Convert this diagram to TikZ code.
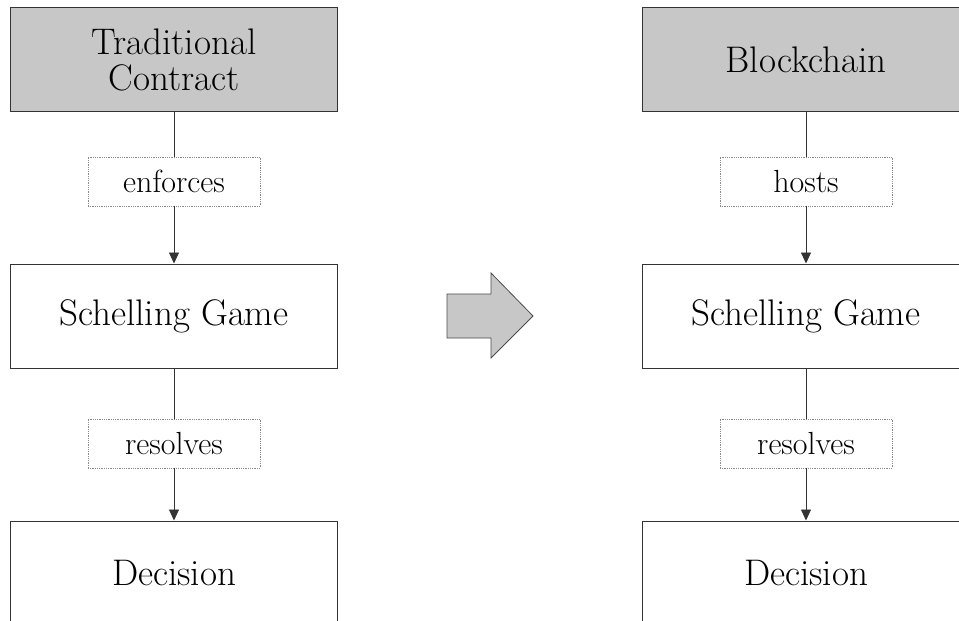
\documentclass[tikz,border=0pt]{standalone}
\usetikzlibrary{arrows.meta}
\begin{document}
\begin{tikzpicture}[x=1pt,y=-1pt,
  mainbox/.style={draw=black!80, line width=1pt, minimum width=327pt, minimum height=104pt, inner sep=0pt, font=\fontsize{37}{40}\selectfont, align=center},
  topbox/.style={mainbox, fill=black!22},
  lbl/.style={draw=black!45, densely dotted, line width=0.8pt, fill=white, minimum width=172pt, minimum height=49pt, inner sep=0pt, font=\fontsize{32}{36}\selectfont},
  conn/.style={draw=black!80, line width=0.9pt},
  arr/.style={conn, -{Triangle[length=11pt,width=10pt]}}
]
\useasboundingbox (0,0) rectangle (959,621);
\clip (0,0) rectangle (959,621);
\fill[white] (0,0) rectangle (959,621);

% left column
\node[topbox] (tc) at (174,59.5) {Traditional\\[-4pt]Contract};
\node[lbl] (enf) at (174,181.5) {enforces};
\node[mainbox] (sg1) at (174,316) {Schelling Game};
\node[lbl] (res1) at (174,443.5) {resolves};
\node[mainbox] (dec1) at (174,573) {Decision};

% right column
\node[topbox] (bc) at (806,59.5) {Blockchain};
\node[lbl] (hosts) at (806,181.5) {hosts};
\node[mainbox] (sg2) at (806,316) {Schelling Game};
\node[lbl] (res2) at (806,443.5) {resolves};
\node[mainbox] (dec2) at (806,573) {Decision};

% connectors
\draw[conn] (tc.south) -- (enf.north);
\draw[arr] (enf.south) -- (sg1.north);
\draw[conn] (sg1.south) -- (res1.north);
\draw[arr] (res1.south) -- (dec1.north);

\draw[conn] (bc.south) -- (hosts.north);
\draw[arr] (hosts.south) -- (sg2.north);
\draw[conn] (sg2.south) -- (res2.north);
\draw[arr] (res2.south) -- (dec2.north);

% big transition arrow
\draw[draw=black!70, line width=0.8pt, fill=black!22, line join=miter]
  (447,294) -- (491,294) -- (491,273) -- (533,316) -- (491,358) -- (491,338) -- (447,338) -- cycle;
\end{tikzpicture}
\end{document}
